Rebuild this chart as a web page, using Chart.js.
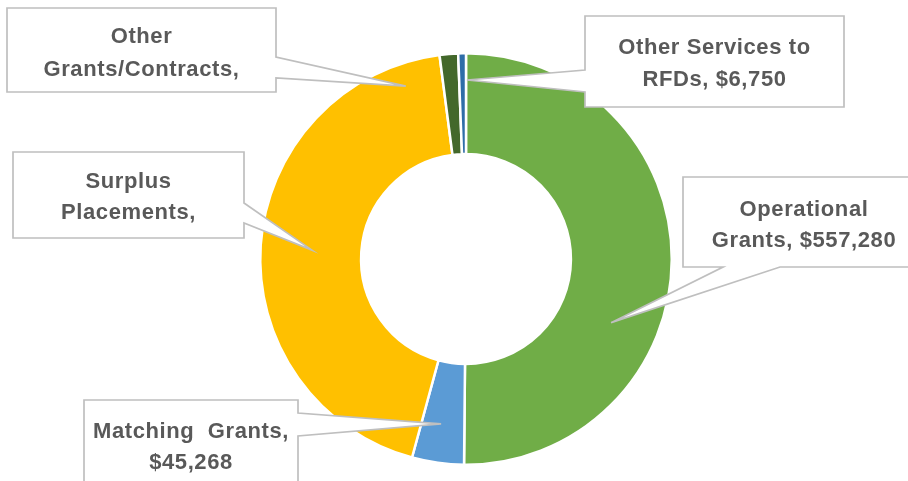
<!DOCTYPE html>
<html>
<head>
<meta charset="utf-8">
<script src="https://cdn.jsdelivr.net/npm/chart.js@4"></script>
<style>
html,body{margin:0;padding:0;background:#fff;}
#wrap{width:908px;height:481px;position:relative;}
</style>
</head>
<body>
<div id="wrap"><canvas id="c" width="908" height="481"></canvas></div>
<script>
const categories = ['Operational Grants', 'Matching Grants', 'Surplus Placements', 'Other Grants/Contracts', 'Other Services to RFDs'];
const values = [557280, 45268, 485800, 16100, 6750];
const colors = ['#70AD47', '#5B9BD5', '#FFC000', '#43682B', '#2E6DA8'];
const labelLines = [
  ['Operational', 'Grants, $557,280'],
  ['Matching  Grants,', '$45,268'],
  ['Surplus', 'Placements,'],
  ['Other', 'Grants/Contracts,'],
  ['Other Services to', 'RFDs, $6,750']
];

// callout layout (box in px, pointer base on a side, tip in polar coords around the doughnut centre)
const callouts = [
  {box:[683,177,925,267], side:'bottom', base:[723,780], tip:[113.7,0.77], lh:31, cy:225},
  {box:[84,400,298,495], side:'right', base:[413,436], tip:[188.6,0.81], lh:31, cy:447},
  {box:[13,152,244,238], side:'right', base:[203,223], tip:[273.3,0.75], lh:31, cy:197},
  {box:[7,8,276,92], side:'right', base:[57,78], tip:[340.8,0.89], lh:33, cy:53},
  {box:[585,16,844,107], side:'left', base:[70,92], tip:[0.3,0.87], lh:32, cy:64}
];

const calloutPlugin = {
  id: 'callouts',
  afterDatasetsDraw(chart) {
    const ctx = chart.ctx;
    const arc = chart.getDatasetMeta(0).data[0];
    const cx = arc.x, cy = arc.y, R = arc.outerRadius;
    callouts.forEach((c, i) => {
      const [x1, y1, x2, y2] = c.box;
      const a = (c.tip[0] - 90) * Math.PI / 180;
      const tx = cx + Math.cos(a) * R * c.tip[1];
      const ty = cy + Math.sin(a) * R * c.tip[1];
      ctx.save();
      ctx.beginPath();
      if (c.side === 'right') {
        ctx.moveTo(x1, y1); ctx.lineTo(x2, y1); ctx.lineTo(x2, c.base[0]);
        ctx.lineTo(tx, ty); ctx.lineTo(x2, c.base[1]); ctx.lineTo(x2, y2); ctx.lineTo(x1, y2);
      } else if (c.side === 'left') {
        ctx.moveTo(x1, y1); ctx.lineTo(x2, y1); ctx.lineTo(x2, y2); ctx.lineTo(x1, y2);
        ctx.lineTo(x1, c.base[1]); ctx.lineTo(tx, ty); ctx.lineTo(x1, c.base[0]);
      } else {
        ctx.moveTo(x1, y1); ctx.lineTo(x2, y1); ctx.lineTo(x2, y2);
        ctx.lineTo(c.base[1], y2); ctx.lineTo(tx, ty); ctx.lineTo(c.base[0], y2); ctx.lineTo(x1, y2);
      }
      ctx.closePath();
      ctx.fillStyle = '#ffffff';
      ctx.fill();
      ctx.strokeStyle = '#BFBFBF';
      ctx.lineWidth = 1.7;
      ctx.lineJoin = 'miter';
      ctx.stroke();

      const lines = labelLines[i];
      ctx.fillStyle = '#595959';
      ctx.font = 'bold 22px "Liberation Sans", Arial, sans-serif';
      ctx.letterSpacing = '0.6px';
      ctx.textAlign = 'center';
      ctx.textBaseline = 'middle';
      const midX = (x1 + x2) / 2;
      const n = lines.length;
      lines.forEach((t, k) => {
        ctx.fillText(t, midX, c.cy + (k - (n - 1) / 2) * c.lh);
      });
      ctx.restore();
    });
  }
};

new Chart(document.getElementById('c'), {
  type: 'doughnut',
  data: {
    labels: categories,
    datasets: [{
      data: values,
      backgroundColor: colors,
      borderColor: '#ffffff',
      borderWidth: 2.5
    }]
  },
  options: {
    responsive: false,
    animation: false,
    cutout: '51%',
    layout: { padding: { top: 52, bottom: 15, left: 24, right: 0 } },
    plugins: { legend: { display: false }, tooltip: { enabled: false } }
  },
  plugins: [calloutPlugin]
});
</script>
</body>
</html>
